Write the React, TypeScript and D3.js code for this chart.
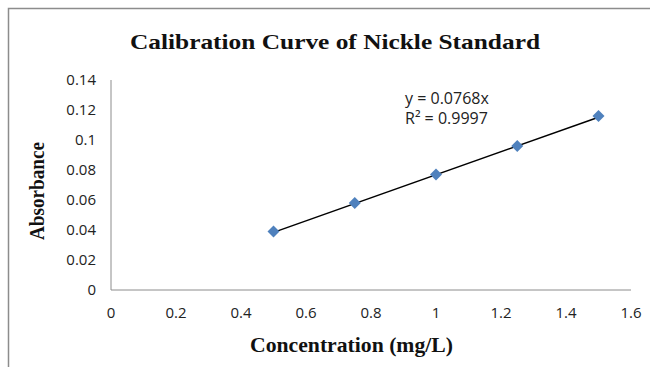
import React, { useEffect, useRef } from 'react';
import * as d3 from 'd3';

const concentration = [0.5, 0.75, 1.0, 1.25, 1.5];
const absorbance = [0.039, 0.058, 0.077, 0.096, 0.116];
const xTicks = [0, 0.2, 0.4, 0.6, 0.8, 1, 1.2, 1.4, 1.6];
const yTicks = [0, 0.02, 0.04, 0.06, 0.08, 0.1, 0.12, 0.14];
const slope = 0.0768;
const equationLines = ['y = 0.0768x', 'R² = 0.9997'];

const width = 650;
const height = 367;

const App: React.FC = () => {
  const svgRef = useRef<SVGSVGElement>(null);

  useEffect(() => {
    if (!svgRef.current) return;
    const svg = d3.select(svgRef.current);
    svg.selectAll('*').remove();

    const x = d3.scaleLinear().domain([0, 1.6]).range([111, 631]);
    const y = d3.scaleLinear().domain([0, 0.14]).range([290, 80]);

    // outer chart border
    svg.append('rect')
      .attr('x', 8.5).attr('y', 8.5)
      .attr('width', 700).attr('height', 400)
      .attr('fill', 'white')
      .attr('stroke', '#8c8c8c')
      .attr('stroke-width', 1.5);

    const serif = 'Liberation Serif, serif';

    svg.append('text')
      .attr('x', 130).attr('y', 49)
      .attr('font-family', serif)
      .attr('font-weight', 'bold')
      .attr('font-size', 21)
      .attr('textLength', 410)
      .attr('lengthAdjust', 'spacingAndGlyphs')
      .attr('fill', '#111')
      .text('Calibration  Curve of Nickle Standard');

    // axes lines
    svg.append('line')
      .attr('x1', x(0)).attr('x2', x(0))
      .attr('y1', y(0.14)).attr('y2', y(0))
      .attr('stroke', '#8c8c8c').attr('stroke-width', 1);
    svg.append('line')
      .attr('x1', x(0)).attr('x2', x(1.6))
      .attr('y1', y(0)).attr('y2', y(0))
      .attr('stroke', '#8c8c8c').attr('stroke-width', 1);

    const tickFont = 'Open Sans, sans-serif';

    svg.append('g').selectAll('text')
      .data(yTicks)
      .enter()
      .append('text')
      .attr('x', 96)
      .attr('y', d => y(d))
      .attr('dy', '0.35em')
      .attr('text-anchor', 'end')
      .attr('font-family', tickFont)
      .attr('font-size', 15)
      .attr('fill', '#222')
      .text(d => String(d));

    svg.append('g').selectAll('text')
      .data(xTicks)
      .enter()
      .append('text')
      .attr('x', d => x(d))
      .attr('y', 313)
      .attr('dy', '0.35em')
      .attr('text-anchor', 'middle')
      .attr('font-family', tickFont)
      .attr('font-size', 15)
      .attr('fill', '#222')
      .text(d => String(d));

    // axis titles
    svg.append('text')
      .attr('transform', 'translate(44,240) rotate(-90)')
      .attr('font-family', serif)
      .attr('font-weight', 'bold')
      .attr('font-size', 20)
      .attr('textLength', 98)
      .attr('lengthAdjust', 'spacingAndGlyphs')
      .attr('fill', '#111')
      .text('Absorbance');

    svg.append('text')
      .attr('x', 250).attr('y', 352)
      .attr('font-family', serif)
      .attr('font-weight', 'bold')
      .attr('font-size', 20)
      .attr('textLength', 203)
      .attr('lengthAdjust', 'spacingAndGlyphs')
      .attr('fill', '#111')
      .text('Concentration  (mg/L)');

    // trendline
    const x0 = d3.min(concentration) as number;
    const x1 = d3.max(concentration) as number;
    svg.append('line')
      .attr('x1', x(x0)).attr('y1', y(slope * x0))
      .attr('x2', x(x1)).attr('y2', y(slope * x1))
      .attr('stroke', '#000').attr('stroke-width', 1.5);

    // markers (square rotated 45deg)
    const square = d3.symbol().type(d3.symbolSquare).size(72);
    svg.append('g').selectAll('path')
      .data(concentration)
      .enter()
      .append('path')
      .attr('d', square)
      .attr('transform', (d, i) => `translate(${x(d)},${y(absorbance[i])}) rotate(45)`)
      .attr('fill', '#4f81bd');

    svg.append('g').selectAll('text')
      .data(equationLines)
      .enter()
      .append('text')
      .attr('x', 405)
      .attr('y', (d, i) => 98 + i * 20)
      .attr('dy', '0.35em')
      .attr('font-family', tickFont)
      .attr('font-size', 16)
      .attr('fill', '#222')
      .text(d => d);
  }, []);

  return (
    <svg
      ref={svgRef}
      width={width}
      height={height}
      style={{ position: 'absolute', left: 0, top: 0, background: 'white' }}
    />
  );
};

export default App;
